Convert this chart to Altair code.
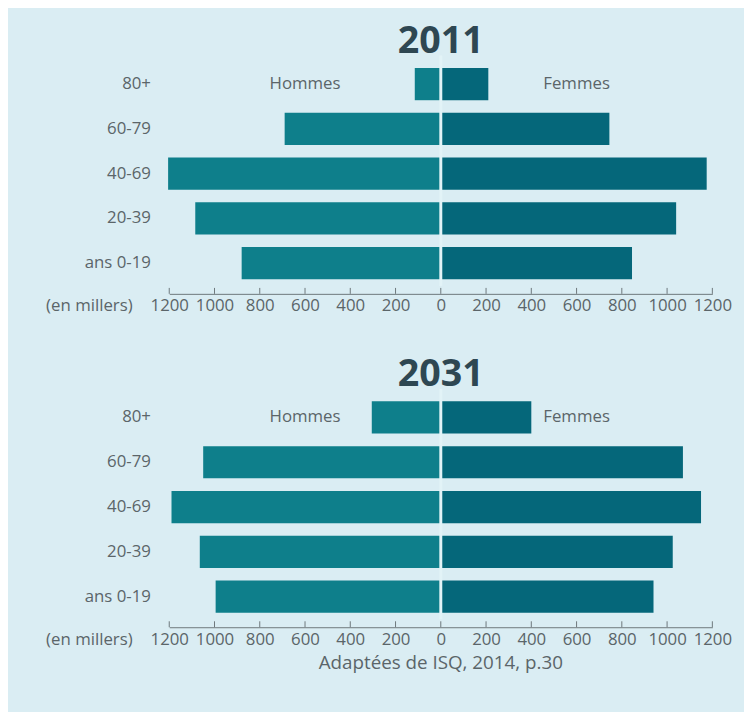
import altair as alt
import pandas as pd

ages = ["80+", "60-79", "40-69", "20-39", "ans 0-19"]
men_2011 = [115, 690, 1205, 1085, 880]
women_2011 = [210, 745, 1175, 1040, 845]
men_2031 = [305, 1050, 1190, 1065, 995]
women_2031 = [400, 1070, 1150, 1025, 940]
tick_values = [-1200, -1000, -800, -600, -400, -200, 0, 200, 400, 600, 800, 1000, 1200]
sex_labels = ["Hommes", "Femmes"]
sex_label_pos = [-600, 600]
unit_label = "(en millers)"
source = "Adaptées de ISQ, 2014, p.30"

W, H = 549, 239
AX_OFF = 2
GRAY = "#5b6569"
FONT = "Open Sans"


def panel(year, men, women, with_source):
    rows = []
    for a, m, f in zip(ages, men, women):
        rows.append({"age": a, "sex": "Hommes", "val": -m})
        rows.append({"age": a, "sex": "Femmes", "val": f})
    df = pd.DataFrame(rows)
    xscale = alt.Scale(domain=[-1200, 1200], nice=False)
    bars = alt.Chart(df).mark_bar().encode(
        x=alt.X("val:Q", scale=xscale,
                axis=alt.Axis(values=tick_values, labelExpr="'' + abs(datum.value)",
                              grid=False, ticks=False, domainColor="#6d777b",
                              offset=AX_OFF,
                              labelPadding=4, labelFontSize=17, labelColor=GRAY,
                              labelFont=FONT, labelFlush=False,
                              title=unit_label, titleX=-125, titleY=4,
                              titleAlign="left", titleBaseline="top",
                              titleFontSize=17, titleFontWeight="normal",
                              titleColor=GRAY, titleFont=FONT)),
        y=alt.Y("age:N", sort=ages,
                scale=alt.Scale(paddingInner=0.28, paddingOuter=0.28),
                axis=alt.Axis(title=None, domain=False, ticks=False, labelPadding=19,
                              labelFontSize=17, labelColor=GRAY, labelFont=FONT)),
        color=alt.Color("sex:N", scale=alt.Scale(domain=sex_labels,
                                                 range=["#0e7f8b", "#05677a"]),
                        legend=None),
    )
    zero = alt.Chart(pd.DataFrame({"z": [0]})).mark_rule(
        color="#e2f3f7", strokeWidth=3).encode(
        x=alt.X("z:Q", scale=xscale), y=alt.value(0), y2=alt.value(H - 6))
    ticks = alt.Chart(pd.DataFrame({"t": tick_values})).mark_rule(
        color="#6d777b", strokeWidth=1).encode(
        x=alt.X("t:Q", scale=xscale), y=alt.value(H + AX_OFF - 6),
        y2=alt.value(H + AX_OFF))
    labels = alt.Chart(pd.DataFrame({"x": sex_label_pos, "label": sex_labels,
                                     "age": [ages[0], ages[0]]})).mark_text(
        fontSize=17, color=GRAY, font=FONT).encode(
        x=alt.X("x:Q", scale=xscale), y=alt.Y("age:N", sort=ages), text="label:N")
    layers = [bars, zero, ticks, labels]
    if with_source:
        src = alt.Chart(pd.DataFrame({"x": [0], "s": [source]})).mark_text(
            fontSize=19, color=GRAY, font=FONT, baseline="middle").encode(
            x=alt.X("x:Q", scale=xscale), y=alt.value(H + 38), text="s:N")
        layers.append(src)
    return alt.layer(*layers).properties(
        width=W, height=H,
        title=alt.TitleParams(year, fontSize=38, font=FONT, fontWeight="bold",
                              color="#2e4752", anchor="middle", frame="group",
                              baseline="alphabetic", offset=-37))


chart = alt.vconcat(
    panel("2011", men_2011, women_2011, False),
    panel("2031", men_2031, women_2031, True),
    spacing=98, bounds="flush",
).properties(
    background="#daedf3",
    padding={"left": 38, "top": 11, "right": 12, "bottom": 60},
).configure_view(stroke=None)

chart.save("out.html", embed_options={"renderer": "svg", "actions": False})
